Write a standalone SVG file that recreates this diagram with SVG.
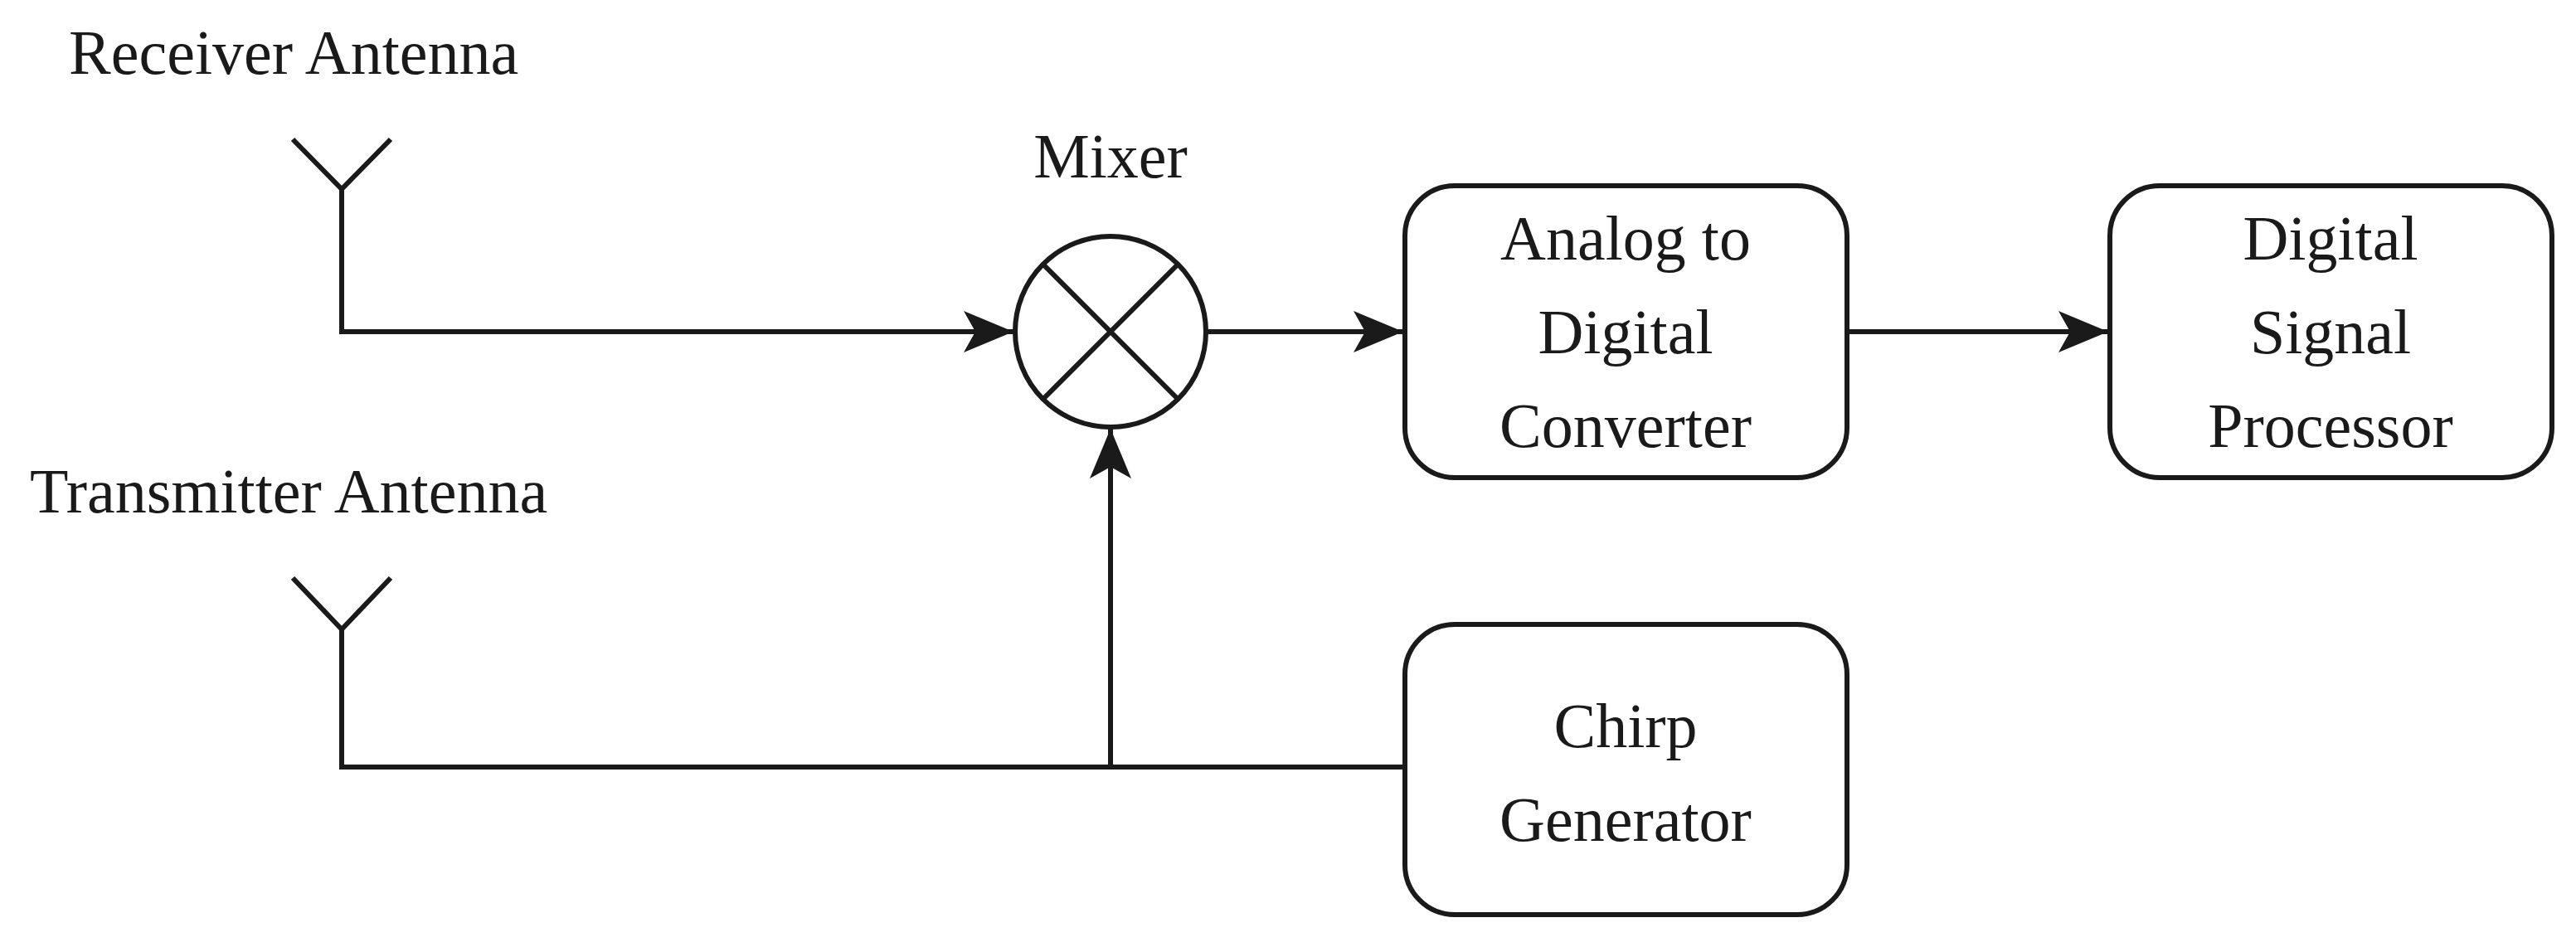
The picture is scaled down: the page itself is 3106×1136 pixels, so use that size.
<svg xmlns="http://www.w3.org/2000/svg" width="3106" height="1136" viewBox="0 0 3106 1136">
<style>
.l{fill:none;stroke:#1a1a1a;stroke-width:6}
.b{fill:#fff;stroke:#1a1a1a;stroke-width:6}
text{font-family:"Liberation Serif","Times New Roman",serif;font-size:76px;fill:#1a1a1a}
.c{text-anchor:middle}
</style>
<defs>
<marker id="a" markerUnits="userSpaceOnUse" markerWidth="64" markerHeight="50" refX="60" refY="25" orient="auto">
<path d="M0,0 L60,25 L0,50 L14,25 Z" fill="#1a1a1a"/>
</marker>
</defs>
<rect width="3106" height="1136" fill="#fff"/>
<g id="connectors">
<path class="l" d="M412,228 V400 H1222" marker-end="url(#a)"/>
<path class="l" d="M1454,400 H1692" marker-end="url(#a)"/>
<path class="l" d="M2227,400 H2542" marker-end="url(#a)"/>
<path class="l" d="M412,759 V925 H1694"/>
<path class="l" d="M1339,925 V517" marker-end="url(#a)"/>
</g>
<g id="rx-antenna">
<path class="l" d="M353,168 L412,228 L471,168"/>
<text x="83" y="89">Receiver Antenna</text>
</g>
<g id="tx-antenna">
<path class="l" d="M353,697 L412,759 L471,697"/>
<text x="36" y="618">Transmitter Antenna</text>
</g>
<g id="mixer">
<circle class="b" cx="1339" cy="400" r="115"/>
<path class="l" d="M1258,319 L1420,481 M1420,319 L1258,481"/>
<text class="c" x="1339" y="214">Mixer</text>
</g>
<g id="adc">
<rect class="b" x="1694" y="224" width="533" height="352" rx="60"/>
<text class="c" x="1960" y="313">Analog to</text>
<text class="c" x="1960" y="426">Digital</text>
<text class="c" x="1960" y="539">Converter</text>
</g>
<g id="dsp">
<rect class="b" x="2544" y="224" width="533" height="352" rx="60"/>
<text class="c" x="2810" y="313">Digital</text>
<text class="c" x="2810" y="426">Signal</text>
<text class="c" x="2810" y="539">Processor</text>
</g>
<g id="chirp">
<rect class="b" x="1694" y="753" width="533" height="350" rx="60"/>
<text class="c" x="1960" y="901">Chirp</text>
<text class="c" x="1960" y="1014">Generator</text>
</g>
</svg>
